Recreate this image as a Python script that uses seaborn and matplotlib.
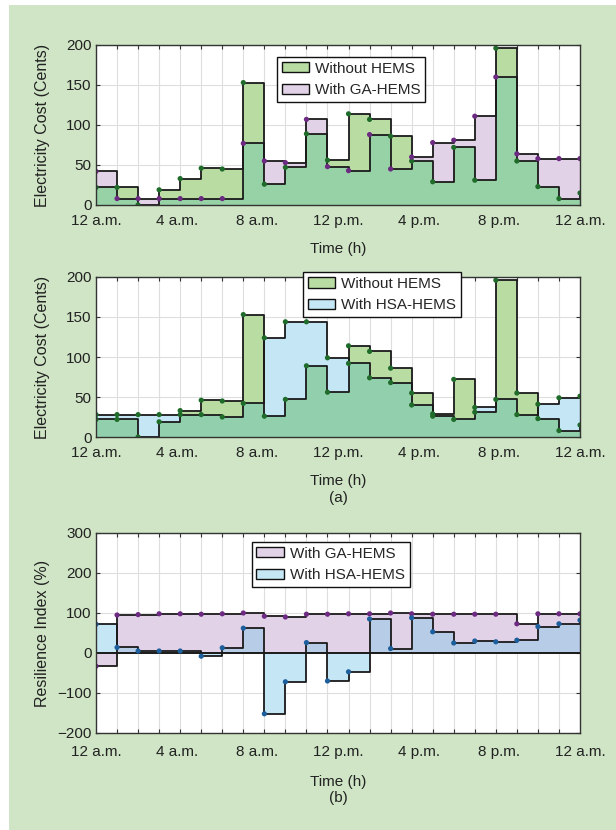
import numpy as np
import pandas as pd
import matplotlib
matplotlib.use("Agg")
import matplotlib.pyplot as plt
import seaborn as sns
from matplotlib.patches import Rectangle, Patch
from matplotlib.ticker import FixedLocator, MultipleLocator

# ---------------- data ----------------
hours = list(range(1, 25))
xtick_labels = ["12 a.m.", "4 a.m.", "8 a.m.", "12 p.m.", "4 p.m.", "8 p.m.", "12 a.m."]

cost_without = [22, 22, 0, 19, 33, 46, 45, 153, 26, 47, 89, 56, 114, 107, 86, 55,
                29, 72, 31, 196, 55, 23, 8, 15]
cost_ga = [42, 8, 8, 8, 8, 8, 8, 77, 55, 53, 107, 48, 43, 88, 45, 60,
           78, 81, 111, 160, 64, 58, 58, 58]
cost_hsa = [28, 28, 28, 28, 28, 28, 25, 42, 124, 144, 144, 99, 92, 74, 68, 40,
            26, 22, 37, 47, 28, 41, 49, 51]

ri_ga = [-33, 95, 96, 98, 98, 97, 98, 100, 92, 90, 97, 97, 98, 98, 100, 98,
         97, 97, 97, 97, 73, 98, 98, 98]
ri_hsa = [72, 14, 5, 5, 5, -8, 13, 62, -152, -72, 26, -70, -47, 85, 11, 88,
          53, 25, 30, 28, 32, 66, 73, 82]

# ---------------- style ----------------
sns.set_theme(style="white")
plt.rcParams["font.family"] = ["Liberation Sans", "DejaVu Sans"]

GREEN = "#b8dca2"
PURPLE = "#e2d2e7"
BLUE = "#c4e6f5"
OV_GP = "#97d1a6"   # green over purple
OV_GB = "#92d0ad"   # green over blue
OV_PB = "#b6cce7"   # purple over blue
DOT = {"green": "#1f6b2a", "purple": "#6d2a82", "blue": "#1d5f9c"}
FS = 11

H = 830
fig = plt.figure(figsize=(6.16, 8.30), dpi=100)
fig.patch.set_facecolor("white")
fig.patches.append(Rectangle((9 / 616, 0), 1, (H - 5) / H, transform=fig.transFigure,
                             facecolor="#cfe5c5", edgecolor="none", zorder=-10))

AX_L, AX_R = 96, 580
L, W = AX_L / 616, (AX_R - AX_L) / 616


def mkax(top, bottom):
    return fig.add_axes([L, 1 - bottom / H, W, (bottom - top) / H])


def fill_pair(ax, y1, y2, c1, c2, cov):
    t = np.array(hours)
    a, b = np.array(y1, float), np.array(y2, float)
    ax.fill_between(t, a, 0, step="post", color=c1, lw=0, zorder=2)
    ax.fill_between(t, b, 0, step="post", color=c2, lw=0, zorder=2.1)
    pos = np.where((a > 0) & (b > 0), np.minimum(a, b), 0)
    neg = np.where((a < 0) & (b < 0), np.maximum(a, b), 0)
    ax.fill_between(t, pos, 0, step="post", color=cov, lw=0, zorder=2.2)
    ax.fill_between(t, neg, 0, step="post", color=cov, lw=0, zorder=2.2)


def outline(ax, y, dot):
    df = pd.DataFrame({"t": hours, "v": y})
    sns.lineplot(data=df, x="t", y="v", ax=ax, drawstyle="steps-post", color="#1a1a1a",
                 lw=1.3, zorder=4, estimator=None)
    sns.scatterplot(data=df, x="t", y="v", ax=ax, color=dot, s=14, edgecolor="none",
                    zorder=5, legend=False)


def style_ax(ax, ylim, yticks, ylabel, top, bottom, tick_y, xlab_y):
    hgt = bottom - top
    ax.set_facecolor("white")
    ax.set_xlim(1, 24)
    ax.set_ylim(*ylim)
    ax.set_yticks(yticks)
    ax.set_yticklabels([str(v).replace("-", "\u2212") for v in yticks], fontsize=FS, color="#222")
    ax.xaxis.set_major_locator(FixedLocator(np.linspace(1, 24, 7)))
    ax.set_xticklabels(xtick_labels, fontsize=FS, color="#222", va="center")
    ax.xaxis.set_minor_locator(MultipleLocator(1))
    ax.grid(True, which="minor", axis="x", color="#dedede", lw=0.8, zorder=0)
    ax.grid(True, which="major", axis="y", color="#dedede", lw=0.8, zorder=0)
    ax.grid(False, which="major", axis="x")
    ax.tick_params(axis="x", which="major", length=0, pad=(tick_y - bottom) / 1.389)
    ax.tick_params(axis="x", which="minor", direction="in", length=3, top=True, bottom=True,
                   color="#333", width=0.8)
    ax.tick_params(axis="y", which="major", direction="in", length=3, left=True, right=True,
                   color="#333", width=0.8, pad=3)
    for s in ax.spines.values():
        s.set_color("#333")
        s.set_linewidth(1.0)
        s.set_zorder(6)
    ax.set_xlabel("Time (h)", fontsize=FS, color="#222")
    ax.xaxis.set_label_coords(0.5, -(xlab_y - bottom) / hgt)
    ax.xaxis.label.set_va("center")
    ax.set_ylabel(ylabel, fontsize=11.5, color="#222")
    ax.yaxis.set_label_coords((43 - AX_L) / (AX_R - AX_L), 0.5)
    ax.yaxis.label.set_va("center")


def legend(ax, labels, colors, anchor):
    handles = [Patch(facecolor=c, edgecolor="#111", lw=1.0) for c in colors]
    leg = ax.legend(handles, labels, loc="upper left", bbox_to_anchor=anchor, fontsize=FS,
                    frameon=True, fancybox=False, framealpha=1, edgecolor="#111",
                    handlelength=1.8, handleheight=0.65, handletextpad=0.4,
                    borderpad=0.3, labelspacing=0.5, borderaxespad=0)
    leg.get_frame().set_linewidth(1.0)
    leg.set_zorder(10)


XC = (AX_L + AX_R) / 2 / 616

# ---- panel 1 ----
T1, B1 = 45, 205
ax1 = mkax(T1, B1)
fill_pair(ax1, cost_ga, cost_without, PURPLE, GREEN, OV_GP)
outline(ax1, cost_without, DOT["green"])
outline(ax1, cost_ga, DOT["purple"])
style_ax(ax1, (0, 200), [0, 50, 100, 150, 200], "Electricity Cost (Cents)", T1, B1, 221, 249)
legend(ax1, ["Without HEMS", "With GA-HEMS"], [GREEN, PURPLE], (0.374, 0.925))

# ---- panel 2 ----
T2, B2 = 277, 437
ax2 = mkax(T2, B2)
fill_pair(ax2, cost_hsa, cost_without, BLUE, GREEN, OV_GB)
outline(ax2, cost_hsa, DOT["green"])
outline(ax2, cost_without, DOT["green"])
style_ax(ax2, (0, 200), [0, 50, 100, 150, 200], "Electricity Cost (Cents)", T2, B2, 453, 481)
legend(ax2, ["Without HEMS", "With HSA-HEMS"], [GREEN, BLUE], (0.428, 1.03))
fig.text(XC, 1 - 498 / H, "(a)", ha="center", va="center", fontsize=FS, color="#222")

# ---- panel 3 ----
T3, B3 = 533, 733
ax3 = mkax(T3, B3)
fill_pair(ax3, ri_ga, ri_hsa, PURPLE, BLUE, OV_PB)
outline(ax3, ri_ga, DOT["purple"])
outline(ax3, ri_hsa, DOT["blue"])
ax3.axhline(0, color="#1a1a1a", lw=1.4, zorder=4)
style_ax(ax3, (-200, 300), [-200, -100, 0, 100, 200, 300], "Resilience Index (%)", T3, B3, 752, 782)
legend(ax3, ["With GA-HEMS", "With HSA-HEMS"], [PURPLE, BLUE], (0.322, 0.955))
fig.text(XC, 1 - 798 / H, "(b)", ha="center", va="center", fontsize=FS, color="#222")

fig.savefig("out.png", dpi=100)
